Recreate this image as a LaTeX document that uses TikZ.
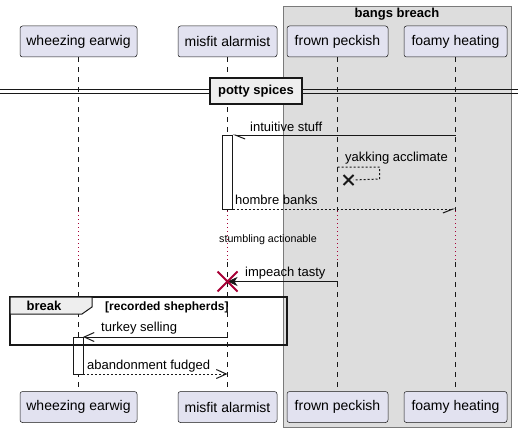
\documentclass[tikz,border=0pt]{standalone}
\usepackage{fontspec}
\setmainfont{Liberation Sans}
\usetikzlibrary{arrows.meta}
\usetikzlibrary{positioning}

\definecolor{partfill}{HTML}{E2E2F0}
\definecolor{umlline}{HTML}{181818}
\definecolor{boxfill}{HTML}{DDDDDD}
\definecolor{boxline}{HTML}{7A7A7A}
\definecolor{tabfill}{HTML}{EEEEEE}
\definecolor{umlred}{HTML}{A80036}

\tikzset{
  part/.style={draw=umlline,fill=partfill,line width=0.5pt,rounded corners=2.5pt,
    minimum height=31pt,inner sep=0pt,font=\fontsize{14}{16}\selectfont},
  life/.style={umlline,line width=0.5pt,dash pattern=on 5pt off 5pt},
  delayline/.style={umlred,line width=0.8pt,dash pattern=on 1pt off 3pt},
  msg/.style={umlline,line width=1pt},
  retmsg/.style={msg,dash pattern=on 2pt off 2pt},
  msglabel/.style={font=\fontsize{13}{15}\selectfont,inner sep=0pt,anchor=base west},
  actbox/.style={draw=umlline,fill=white,line width=1pt,inner sep=0pt,outer sep=0pt,minimum width=10pt},
  openhead/.style={-{Straight Barb[length=10pt,width=9pt]}},
}

\begin{document}
\begin{tikzpicture}[x=1pt,y=-1pt]
\useasboundingbox (0,0) rectangle (518,433);
% box round the two right participants
\draw[fill=boxfill,draw=boxline,line width=0.75pt] (283,6) rectangle (511,427);
\node[font=\bfseries\fontsize{13}{15}\selectfont] (bangs) at (397,14.5) {bangs breach};

% participants and lifelines
\foreach \p/\x/\w/\t in {earwig/78.5/117/wheezing earwig,alarmist/227.5/99/misfit alarmist,
    peckish/337.5/101/frown peckish,heating/455.5/103/foamy heating}{
  \node[part,minimum width=\w pt] (\p Top) at (\x,41.5) {\t};
  \node[part,minimum width=\w pt] (\p Bot) at (\x,407) {\t};
  \coordinate (\p DelayA) at (\p Top.south |- 0,211);
  \coordinate (\p DelayB) at (\p Top.south |- 0,262);
  \draw[life] (\p Top.south) -- (\p DelayA);
  \draw[delayline] (\p DelayA) -- (\p DelayB);
  \draw[life] (\p DelayB) -- (\p Bot.north);
}

% divider
\draw[umlline,line width=1pt] (0,89.5) -- (518,89.5) (0,93.5) -- (518,93.5);
\node[draw=umlline,fill=tabfill,line width=1.5pt,minimum width=92pt,minimum height=26pt,inner sep=0pt,
  font=\bfseries\fontsize{13}{15}\selectfont] (potty) at (256,91) {potty spices};

\node[actbox,minimum height=74pt] (act1) at (227.5,172) {};
\node[actbox,minimum height=37pt] (act2) at (78,355.5) {};

\coordinate (heatM1) at (heatingTop.south |- 0,135);
\draw[msg,-{Straight Barb[left,length=10pt,width=8pt]}] (heatM1) -- (act1.north east);
\node[msglabel] (m1) at (250,131) {intuitive stuff};

\coordinate (peckM2) at (peckishTop.south |- 0,167);
\coordinate (lostX) at (348.5,180);
\draw[retmsg] (peckM2) -- ++(42,0) -- ++(0,12) -- ([xshift=5pt]lostX);
\draw[umlline,line width=2pt] ([shift={(-5,-5)}]lostX) -- ([shift={(5,5)}]lostX)
  ([shift={(-5,5)}]lostX) -- ([shift={(5,-5)}]lostX);
\node[msglabel] (m2) at (345,161) {yakking acclimate};

\coordinate (heatM3) at (heatingTop.south |- 0,209);
\draw[retmsg,-{Straight Barb[right,length=10pt,width=8pt]}] (act1.south east) -- (heatM3);
\node[msglabel] (m3) at (235,204.5) {hombre banks};

\node[font=\fontsize{10.7}{13}\selectfont,inner sep=0pt,anchor=base west] (delay) at (219,242.5) {stumbling actionable};

\coordinate (peckM4) at (peckishTop.south |- 0,281.5);
\coordinate (alarmDie) at (alarmistTop.south |- 0,281.5);
\draw[msg,-{Stealth[length=10pt,width=9pt,inset=3pt]}] (peckM4) -- (alarmDie);
\draw[umlred,line width=2pt] ([shift={(-10,-10)}]alarmDie) -- ([shift={(10,10)}]alarmDie)
  ([shift={(-10,10)}]alarmDie) -- ([shift={(10,-10)}]alarmDie);
\node[msglabel] (m4) at (245,276) {impeach tasty};

\coordinate (alarmM5) at (alarmistTop.south |- 0,337);
\draw[msg,openhead] (alarmM5) -- (act2.north east);
\node[msglabel] (m5) at (101,331) {turkey selling};

\coordinate (alarmM6) at (alarmistTop.south |- 0,374);
\draw[retmsg,openhead] (act2.south east) -- (alarmM6);
\node[msglabel] (m6) at (87,369) {abandonment fudged};

% break frame
\draw[umlline,line width=1.5pt] (10,297) rectangle (287,345);
\draw[umlline,fill=tabfill,line width=1pt] (10,297) -- (92,297) -- (92,307) -- (82,314) -- (10,314) -- cycle;
\node[font=\bfseries\fontsize{13}{15}\selectfont,inner sep=0pt,anchor=base] (brk) at (44,310) {break};
\node[font=\bfseries\fontsize{12}{14}\selectfont,inner sep=0pt,anchor=base west] (guard) at (105,310.5) {[recorded shepherds]};

\end{tikzpicture}
\end{document}
